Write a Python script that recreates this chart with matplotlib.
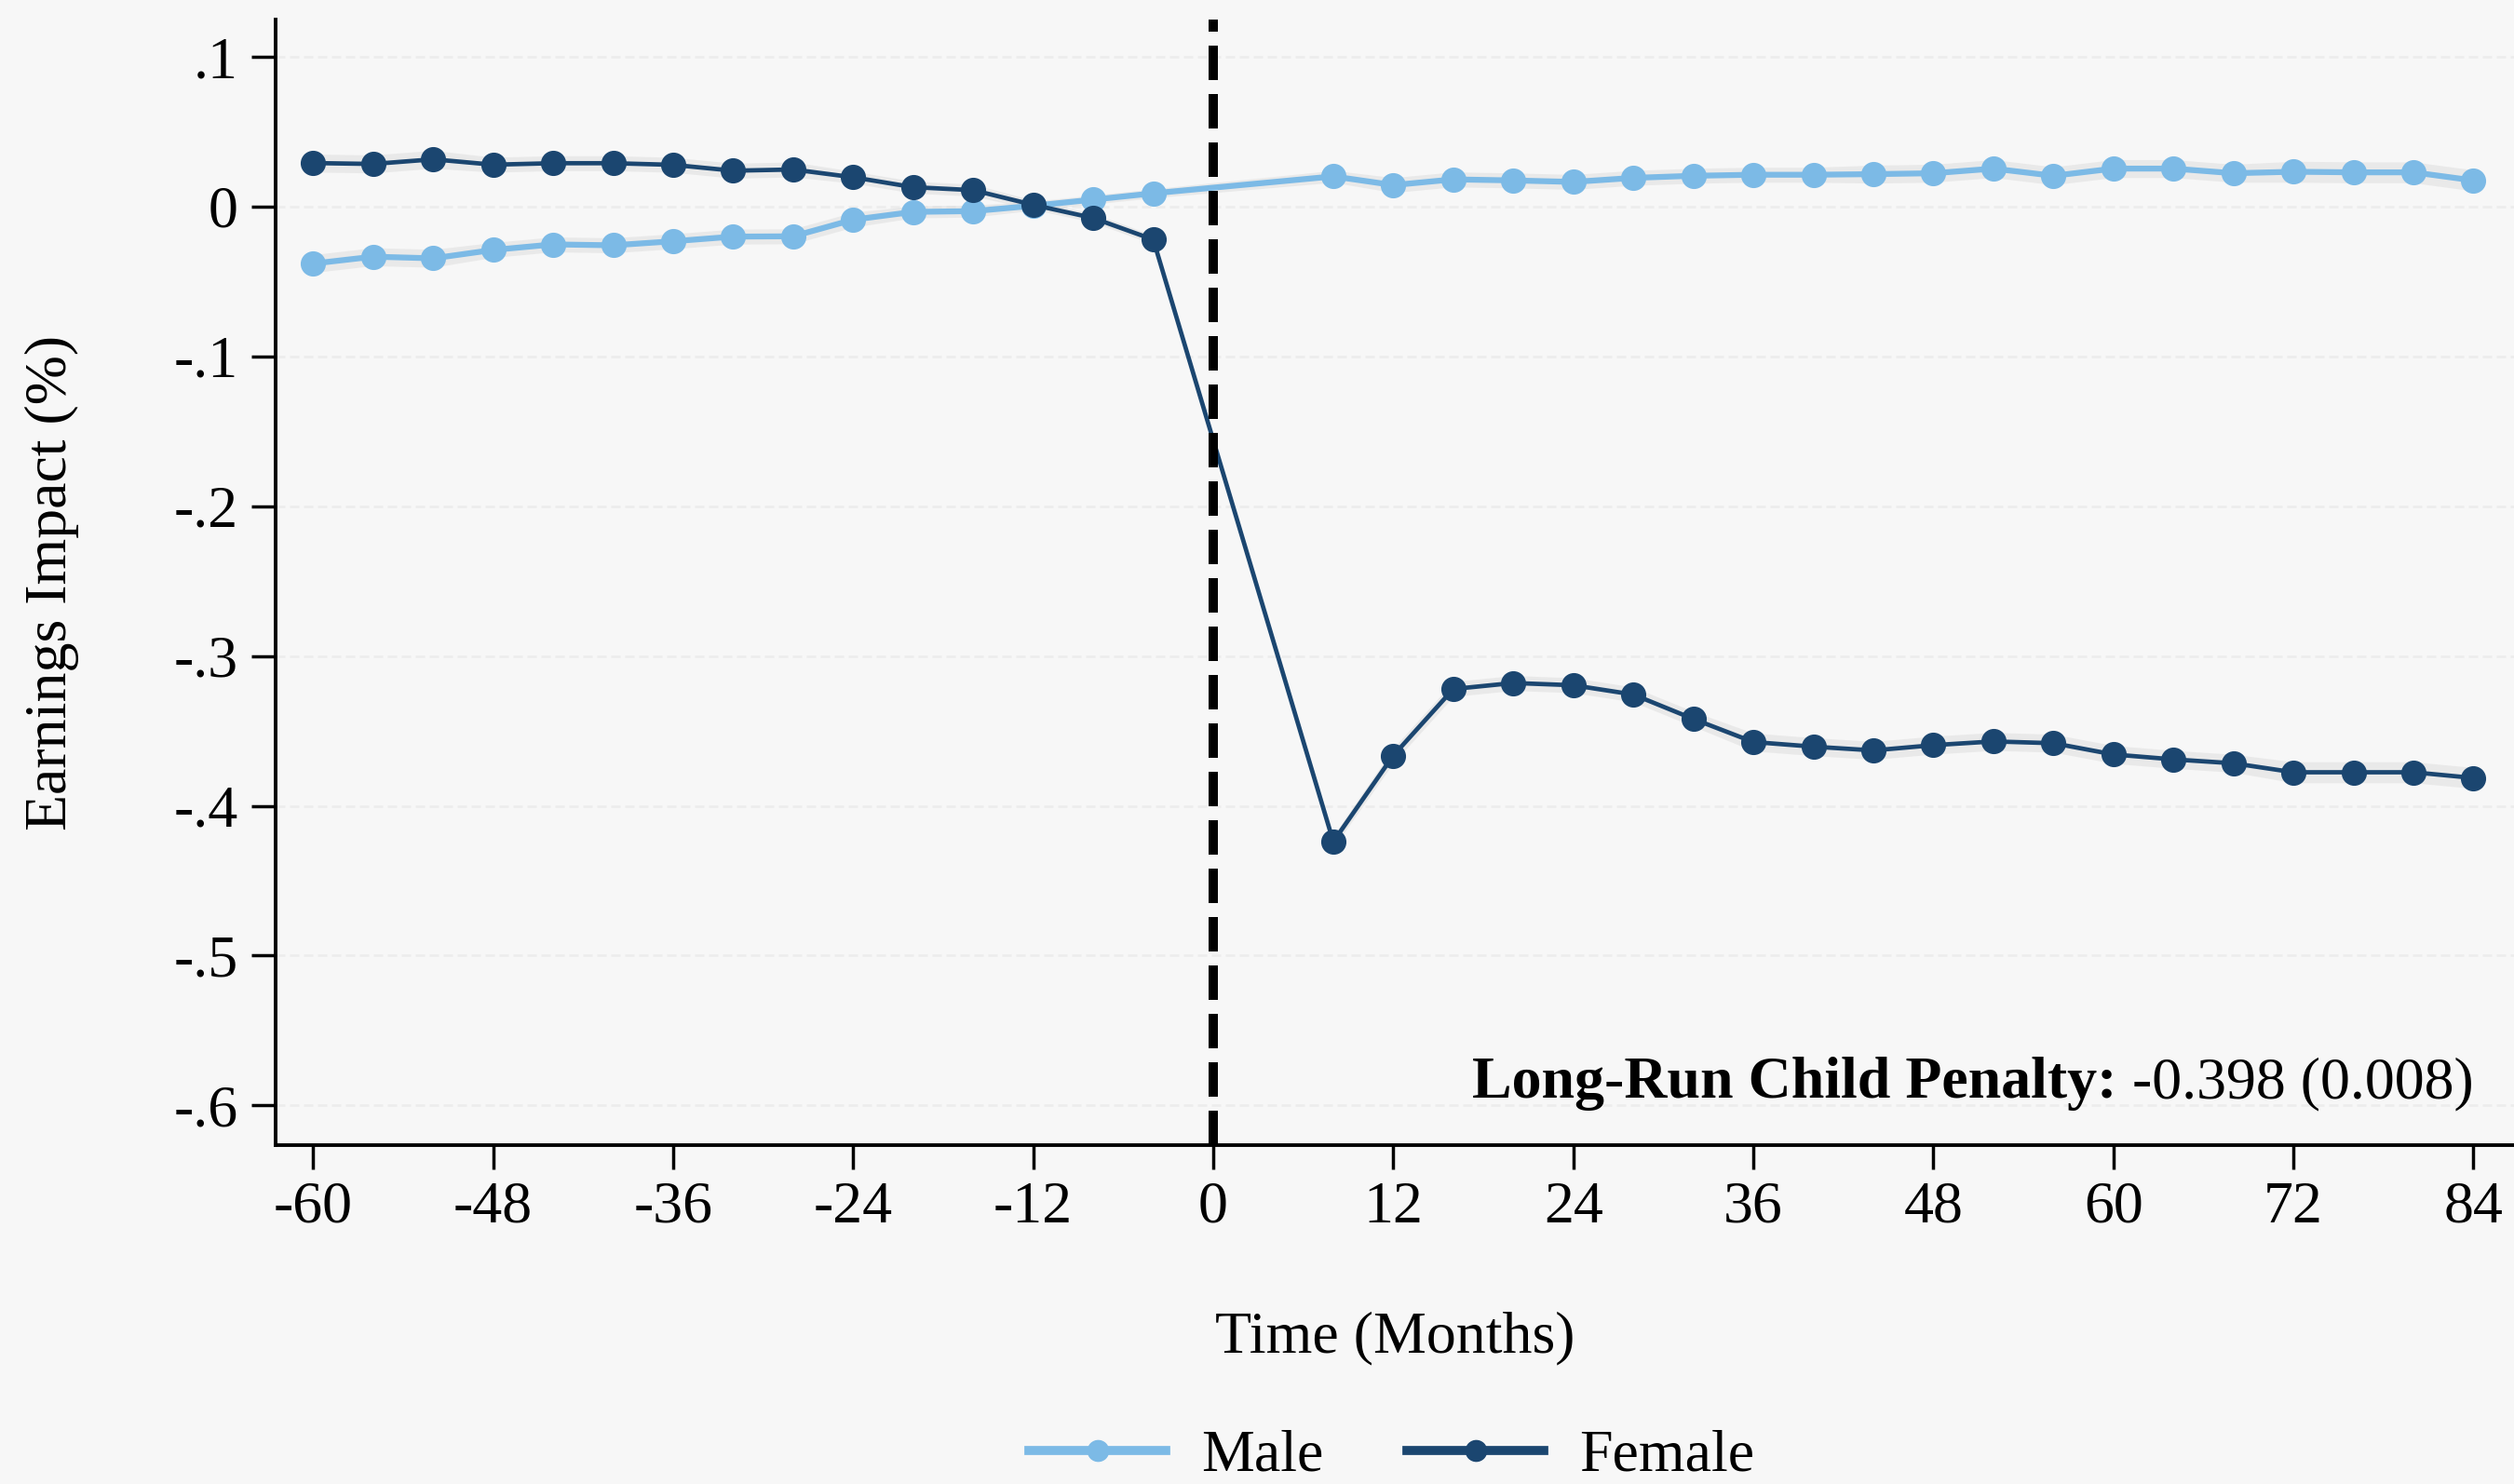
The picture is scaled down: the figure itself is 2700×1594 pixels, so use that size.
import matplotlib
matplotlib.use("Agg")
import matplotlib.pyplot as plt
from matplotlib.lines import Line2D
import numpy as np

# ---- data ----
months_pre = [-60, -56, -52, -48, -44, -40, -36, -32, -28, -24, -20, -16, -12, -8, -4]
months_post = [8, 12, 16, 20, 24, 28, 32, 36, 40, 44, 48, 52, 56, 60, 64, 68, 72, 76, 80, 84]
months = months_pre + months_post

male = [-0.038, -0.0334, -0.0345, -0.0289, -0.0252, -0.0258, -0.0231, -0.0200, -0.0198,
        -0.0087, -0.0035, -0.0030, 0.0006, 0.0047, 0.0089,
        0.0202, 0.0144, 0.0182, 0.0175, 0.0165, 0.0192, 0.0206, 0.0213, 0.0213, 0.0217,
        0.0223, 0.0254, 0.0206, 0.0254, 0.0254, 0.0223, 0.0233, 0.0229, 0.0229, 0.0175]
female = [0.0291, 0.0285, 0.0316, 0.0280, 0.0290, 0.0290, 0.0279, 0.0240, 0.0248,
          0.0196, 0.0130, 0.0110, 0.0012, -0.0076, -0.0220,
          -0.4239, -0.3664, -0.3220, -0.3180, -0.3195, -0.3257, -0.3420, -0.3574, -0.3605, -0.3630,
          -0.3595, -0.3570, -0.3582, -0.3657, -0.3690, -0.3716, -0.3776, -0.3776, -0.3776, -0.3814]
male_ci = [0.006, 0.006, 0.006, 0.005, 0.005, 0.005, 0.005, 0.005, 0.005, 0.005, 0.004, 0.004, 0.003, 0.003, 0.003,
           0.004, 0.005, 0.005, 0.005, 0.005, 0.005, 0.005, 0.005, 0.005, 0.006,
           0.006, 0.006, 0.006, 0.006, 0.006, 0.006, 0.007, 0.007, 0.007, 0.007]
female_ci = [0.006, 0.006, 0.006, 0.005, 0.005, 0.005, 0.005, 0.005, 0.005, 0.004, 0.004, 0.004, 0.003, 0.003, 0.003,
             0.004, 0.005, 0.005, 0.005, 0.005, 0.005, 0.005, 0.006, 0.006, 0.006,
             0.006, 0.006, 0.006, 0.006, 0.006, 0.006, 0.007, 0.007, 0.007, 0.007]

xticks = [-60, -48, -36, -24, -12, 0, 12, 24, 36, 48, 60, 72, 84]
yticks = [0.1, 0.0, -0.1, -0.2, -0.3, -0.4, -0.5, -0.6]
ytick_labels = [".1", "0", "-.1", "-.2", "-.3", "-.4", "-.5", "-.6"]
series_names = ["Male", "Female"]
penalty_bold = "Long-Run Child Penalty:"
penalty_text = " -0.398 (0.008)"

# ---- style ----
BG = "#f7f7f7"
C_MALE = "#7cbae6"
C_FEMALE = "#1b4670"
FS = 46
plt.rcParams["font.family"] = ["Liberation Serif", "DejaVu Serif"]

fig = plt.figure(figsize=(27, 15.94), dpi=100, facecolor=BG)
ax = fig.add_axes([296 / 2700, 1 - 1230 / 1594, 1 - 296 / 2700, (1230 - 21) / 1594])
ax.set_facecolor(BG)

ax.set_xlim(-62.5, 86.7)
ax.set_ylim(-0.6265, 0.1249)

# faint grid
for yv in yticks:
    ax.axhline(yv, color="#ececec", lw=1.8, ls=(0, (4, 2)), zorder=0)

x = np.array(months, dtype=float)
for vals, ci, col, lw in [(male, male_ci, C_MALE, 4.5), (female, female_ci, C_FEMALE, 3.4)]:
    v = np.array(vals)
    c = np.array(ci)
    ax.fill_between(x, v - c, v + c, color="#d9d9d9", alpha=0.45, lw=0, zorder=1)
    ax.plot(x, v, color=col, lw=lw, marker="o", ms=18.5, mec=col, mfc=col, zorder=3,
            solid_joinstyle="round")

ax.axvline(0, color="black", lw=7.2, ls=(0, (3.7, 1.5)), zorder=4)

for s in ["top", "right"]:
    ax.spines[s].set_visible(False)
for s in ["left", "bottom"]:
    ax.spines[s].set_linewidth(2.8)
    ax.spines[s].set_color("black")

ax.set_xticks(xticks)
ax.set_xticklabels([str(t) for t in xticks])
ax.set_yticks(yticks)
ax.set_yticklabels(ytick_labels)
ax.tick_params(axis="both", which="major", length=19, width=2.5, labelsize=FS, color="black")
ax.tick_params(axis="x", pad=9)
ax.tick_params(axis="y", pad=10)

ax.set_ylabel("Earnings Impact (%)", fontsize=FS, labelpad=73)
ax.set_xlabel("Time (Months)", fontsize=FS, labelpad=59)

# annotation: bold + regular
ya = -0.5855
t2 = ax.text(84, ya, penalty_text, fontsize=FS, ha="right", va="center", zorder=5)
fig.canvas.draw()
bb = t2.get_window_extent(renderer=fig.canvas.get_renderer())
inv = ax.transData.inverted()
x_left = inv.transform((bb.x0, bb.y0))[0]
ax.text(x_left, ya, penalty_bold, fontsize=FS, ha="right", va="center",
        fontweight="bold", zorder=5)

handles = [Line2D([], [], color=C_MALE, lw=7, marker="o", ms=16),
           Line2D([], [], color=C_FEMALE, lw=7, marker="o", ms=16)]
fig.legend(handles, series_names, loc="center", bbox_to_anchor=(0.5537, 0.0185), ncol=2,
           frameon=False, fontsize=FS, handlelength=2.3, handletextpad=0.6,
           columnspacing=1.4, borderaxespad=0, borderpad=0)

fig.savefig("out.png", dpi=100, facecolor=BG)
